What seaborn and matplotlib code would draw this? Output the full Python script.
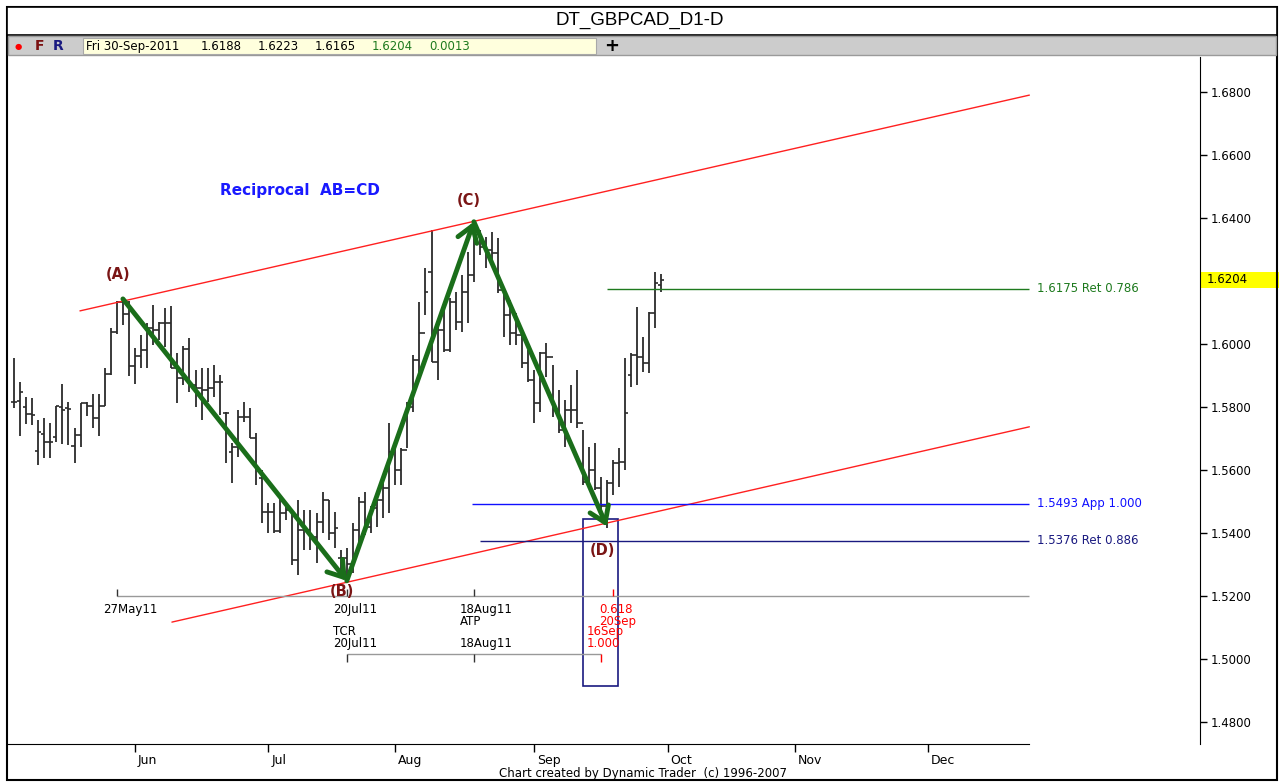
import matplotlib
matplotlib.use("Agg")
import matplotlib.pyplot as plt
import matplotlib.transforms as mtransforms
from matplotlib.patches import Rectangle
import numpy as np
import pandas as pd
import seaborn as sns

sns.set_style("white")
plt.rcParams["font.family"] = ["DejaVu Sans"]
plt.rcParams["text.color"] = "black"

W, H = 1279, 782

# daily bars, 04 May 2011 .. 30 Sep 2011 (weekdays)
bar_dates = pd.bdate_range("2011-05-04", "2011-09-30")
axis_dates = pd.bdate_range("2011-05-04", "2011-12-30")

opens = [1.5817, 1.5819, 1.5801, 1.5779, 1.5660, 1.5715, 1.5688, 1.5705, 1.5800, 1.5798,
         1.5675, 1.5711, 1.5811, 1.5804, 1.5766, 1.5802, 1.5904, 1.6037, 1.6134, 1.6096,
         1.5931, 1.5963, 1.5980, 1.6052, 1.6045, 1.6065, 1.6065, 1.5923, 1.5891, 1.5983,
         1.5870, 1.5859, 1.5854, 1.5859, 1.5880, 1.5780, 1.5658, 1.5674, 1.5769, 1.5769,
         1.5701, 1.5574, 1.5465, 1.5465, 1.5407, 1.5462, 1.5473, 1.5314, 1.5410, 1.5410,
         1.5388, 1.5436, 1.5505, 1.5399, 1.5320, 1.5320, 1.5300, 1.5410, 1.5499, 1.5420,
         1.5478, 1.5505, 1.5542, 1.5658, 1.5600, 1.5663, 1.5801, 1.5949, 1.6034, 1.6230,
         1.5944, 1.6044, 1.5981, 1.6134, 1.6071, 1.6166, 1.6219, 1.6357, 1.6309, 1.6299,
         1.6288, 1.6171, 1.6092, 1.6034, 1.6028, 1.5939, 1.5886, 1.5812, 1.5970, 1.5960,
         1.5790, 1.5727, 1.5790, 1.5790, 1.5748, 1.5563, 1.5600, 1.5542, 1.5484, 1.5560,
         1.5621, 1.5626, 1.5901, 1.5965, 1.5960, 1.5939, 1.6097, 1.6188]
highs = [1.5957, 1.5880, 1.5832, 1.5830, 1.5760, 1.5766, 1.5749, 1.5804, 1.5874, 1.5817,
         1.5732, 1.5811, 1.5815, 1.5840, 1.5842, 1.5925, 1.6052, 1.6137, 1.6145, 1.6137,
         1.5986, 1.6028, 1.6065, 1.6124, 1.6071, 1.6113, 1.6122, 1.5970, 1.5995, 1.6018,
         1.5917, 1.5923, 1.5923, 1.5933, 1.5902, 1.5785, 1.5685, 1.5790, 1.5817, 1.5796,
         1.5716, 1.5600, 1.5494, 1.5494, 1.5521, 1.5489, 1.5462, 1.5505, 1.5473, 1.5473,
         1.5462, 1.5531, 1.5505, 1.5468, 1.5346, 1.5352, 1.5431, 1.5515, 1.5531, 1.5484,
         1.5515, 1.5573, 1.5748, 1.5679, 1.5669, 1.5817, 1.5965, 1.6134, 1.6240, 1.6362,
         1.6060, 1.6113, 1.6145, 1.6166, 1.6219, 1.6293, 1.6390, 1.6362, 1.6341, 1.6357,
         1.6335, 1.6177, 1.6140, 1.6097, 1.6044, 1.5981, 1.5917, 1.5976, 1.6002, 1.5933,
         1.5854, 1.5822, 1.5870, 1.5917, 1.5727, 1.5674, 1.5685, 1.5579, 1.5568, 1.5632,
         1.5669, 1.5956, 1.5970, 1.6118, 1.6023, 1.6103, 1.6230, 1.6223]
lows = [1.5796, 1.5709, 1.5745, 1.5743, 1.5616, 1.5637, 1.5637, 1.5690, 1.5681, 1.5679,
        1.5622, 1.5673, 1.5770, 1.5732, 1.5707, 1.5802, 1.5902, 1.6031, 1.6060, 1.5899,
        1.5874, 1.5923, 1.5923, 1.5997, 1.6012, 1.5990, 1.5923, 1.5812, 1.5870, 1.5849,
        1.5801, 1.5759, 1.5817, 1.5833, 1.5774, 1.5621, 1.5558, 1.5642, 1.5753, 1.5701,
        1.5552, 1.5431, 1.5399, 1.5399, 1.5399, 1.5441, 1.5298, 1.5267, 1.5346, 1.5346,
        1.5304, 1.5399, 1.5378, 1.5351, 1.5272, 1.5251, 1.5272, 1.5367, 1.5394, 1.5399,
        1.5420, 1.5447, 1.5462, 1.5552, 1.5552, 1.5669, 1.5785, 1.5912, 1.6092, 1.5944,
        1.5886, 1.5976, 1.5976, 1.6044, 1.6039, 1.6066, 1.6198, 1.6283, 1.6241, 1.6246,
        1.6161, 1.6023, 1.5997, 1.5997, 1.5923, 1.5880, 1.5748, 1.5785, 1.5896, 1.5769,
        1.5716, 1.5674, 1.5748, 1.5732, 1.5552, 1.5558, 1.5537, 1.5462, 1.5415, 1.5521,
        1.5547, 1.5600, 1.5864, 1.5870, 1.5912, 1.5907, 1.6050, 1.6165]
closes = [1.5817, 1.5849, 1.5779, 1.5775, 1.5722, 1.5690, 1.5690, 1.5804, 1.5790, 1.5794,
          1.5711, 1.5811, 1.5804, 1.5766, 1.5802, 1.5904, 1.6037, 1.6134, 1.6096, 1.5931,
          1.5963, 1.5980, 1.6052, 1.6045, 1.6065, 1.6065, 1.5923, 1.5891, 1.5983, 1.5870,
          1.5859, 1.5854, 1.5859, 1.5880, 1.5880, 1.5780, 1.5674, 1.5769, 1.5769, 1.5701,
          1.5605, 1.5465, 1.5465, 1.5407, 1.5462, 1.5473, 1.5314, 1.5410, 1.5410, 1.5388,
          1.5436, 1.5505, 1.5399, 1.5415, 1.5320, 1.5300, 1.5410, 1.5499, 1.5420, 1.5478,
          1.5505, 1.5542, 1.5658, 1.5600, 1.5663, 1.5801, 1.5949, 1.6034, 1.6166, 1.5944,
          1.6044, 1.5981, 1.6134, 1.6071, 1.6166, 1.6219, 1.6357, 1.6309, 1.6299, 1.6288,
          1.6171, 1.6092, 1.6034, 1.6028, 1.5939, 1.5886, 1.5812, 1.5970, 1.5960, 1.5790,
          1.5727, 1.5790, 1.5790, 1.5748, 1.5563, 1.5600, 1.5542, 1.5484, 1.5560, 1.5621,
          1.5626, 1.5782, 1.5965, 1.5960, 1.5939, 1.6097, 1.6193, 1.6204]

# AB=CD pivots (bar index, price)
pivot_idx = [18, 55, 76, 98]
pivot_px = [1.6143, 1.5248, 1.6388, 1.5420]
pivot_names = ["(A)", "(B)", "(C)", "(D)"]

# channel lines (bar index, price)
upper_x, upper_y = [10.9, 167.8], [1.6105, 1.6790]
lower_x, lower_y = [26.1, 167.8], [1.5117, 1.5737]

# price projections
level_px = [1.6175, 1.5493, 1.5376]
level_start = [98, 75.7, 77]
level_txt = ["1.6175 Ret 0.786", "1.5493 App 1.000", "1.5376 Ret 0.886"]
level_col = ["#1e7a1e", "#1010ff", "#1a1a80"]

# time projections
atp_dates = ["2011-05-27", "2011-07-20", "2011-08-18"]
atp_labels = ["27May11", "20Jul11", "18Aug11\nATP"]
atp_target = "2011-09-20"
tcr_dates = ["2011-07-20", "2011-08-18"]
tcr_labels = ["TCR\n20Jul11", "18Aug11"]
tcr_target = "2011-09-16"
atp_level, tcr_level = 1.5200, 1.5016

# target box
box_x, box_w = 94.0, 5.8
box_lo, box_hi = 1.4914, 1.5444

month_names = ["Jun", "Jul", "Aug", "Sep", "Oct", "Nov", "Dec"]
y_ticks = [1.48, 1.50, 1.52, 1.54, 1.56, 1.58, 1.60, 1.64, 1.66, 1.68]

x_end = 167.8

fig = plt.figure(figsize=(W / 100, H / 100), dpi=100)
ax = fig.add_axes([8 / W, 1 - 744 / H, 1192 / W, 687 / H])

idx = np.arange(len(bar_dates))
bar_col = "#2b2b2b"
ax.vlines(idx, lows, highs, color=bar_col, lw=1.3)
ax.hlines(opens, idx - 0.5, idx, color=bar_col, lw=1.2)
ax.hlines(closes, idx, idx + 0.5, color=bar_col, lw=1.2)

# channel
sns.lineplot(x=upper_x, y=upper_y, ax=ax, color="#ff2020", lw=1)
sns.lineplot(x=lower_x, y=lower_y, ax=ax, color="#ff2020", lw=1)

# levels
for p, s, t, c in zip(level_px, level_start, level_txt, level_col):
    ax.hlines(p, s, x_end, color=c, lw=1)
    ax.text(x_end + 1.3, p, t, color=c, fontsize=8.5, ha="left", va="center")

# arrows
for k in range(3):
    ax.annotate("", xy=(pivot_idx[k + 1], pivot_px[k + 1]), xytext=(pivot_idx[k], pivot_px[k]),
                arrowprops=dict(arrowstyle="->,head_length=0.6,head_width=0.4", lw=3.5,
                                color="#1a6e1a", shrinkA=0, shrinkB=0, mutation_scale=18))

lbl_off = [0.0078, -0.0035, 0.0069, -0.0077]
for i, p, n, o in zip(pivot_idx, pivot_px, pivot_names, lbl_off):
    ax.text(i - 0.8, p + o, n, color="#7a1515", fontsize=10.5, fontweight="bold",
            ha="center", va="center")

ax.text(34.0, 1.6486, "Reciprocal  AB=CD", color="#1a1aff", fontsize=11,
        fontweight="bold", ha="left", va="center")


# time projection lines
def loc(d):
    return axis_dates.get_loc(pd.Timestamp(d))


atp_i = [loc(d) for d in atp_dates]
ax.hlines(atp_level, atp_i[0], x_end, color="#999999", lw=1)
ax.vlines(atp_i, atp_level, atp_level + 0.0022, color="#333333", lw=1)
for i, s in zip(atp_i, atp_labels):
    ax.text(i - 2.3, atp_level - 0.0022, s, fontsize=8.5, ha="left", va="top", linespacing=0.95)
ta = loc(atp_target)
ax.vlines(ta, atp_level, atp_level + 0.0022, color="#ff0000", lw=1)
ax.text(ta - 2.3, atp_level - 0.0022, "0.618\n20Sep", color="#ff0000", fontsize=8.5,
        ha="left", va="top", linespacing=0.95)

tcr_i = [loc(d) for d in tcr_dates]
tt = loc(tcr_target)
ax.hlines(tcr_level, tcr_i[0], tt, color="#999999", lw=1)
ax.vlines(tcr_i, tcr_level - 0.0025, tcr_level, color="#333333", lw=1)
for i, s in zip(tcr_i, tcr_labels):
    ax.text(i - 2.3, tcr_level + 0.0012, s, fontsize=8.5, ha="left", va="bottom", linespacing=0.95)
ax.vlines(tt, tcr_level - 0.0025, tcr_level, color="#ff0000", lw=1)
ax.text(tt - 2.4, tcr_level + 0.0012, "16Sep\n1.000", color="#ff0000", fontsize=8.5,
        ha="left", va="bottom", linespacing=0.95)

ax.add_patch(Rectangle((box_x, box_lo), box_w, box_hi - box_lo, fill=False,
                       edgecolor="#1a1a80", lw=1.2))

# axes
ax.set_xlim(-0.99, 196.0)
ax.set_ylim(1.4730, 1.6911)
ax.yaxis.tick_right()
ax.set_yticks(y_ticks)
ax.set_yticklabels([f"{v:.4f}" for v in y_ticks])
ax.tick_params(axis="y", direction="out", length=5, width=1, pad=3, labelsize=8.5,
               right=True, left=False, colors="black")

month_i = [i for i in range(1, len(axis_dates)) if axis_dates[i].month != axis_dates[i - 1].month]
ax.set_xticks(month_i)
ax.set_xticklabels(month_names, family=["Liberation Sans Narrow", "DejaVu Sans"], fontsize=9)
ax.tick_params(axis="x", direction="out", length=6, width=1, pad=1, bottom=True, colors="black")
shift = mtransforms.ScaledTranslation(3 / 100, 0, fig.dpi_scale_trans)
for lab in ax.get_xticklabels():
    lab.set_ha("left")
    lab.set_transform(lab.get_transform() + shift)

for s in ["top", "left"]:
    ax.spines[s].set_visible(False)
ax.spines["right"].set_color("black")
ax.spines["bottom"].set_color("black")
ax.spines["bottom"].set_bounds(-0.99, x_end)
ax.set_xlabel("")
ax.set_ylabel("")

# last price tag
tag = mtransforms.blended_transform_factory(ax.transAxes, ax.transData)
ax.add_patch(Rectangle((1.0, closes[-1] - 0.0026), 0.07, 0.0052, transform=tag,
                       facecolor="#ffff00", edgecolor="none", clip_on=False))
ax.text(1.006, closes[-1], f"{closes[-1]:.4f}", transform=tag, fontsize=8.5,
        ha="left", va="center")


# header / frame
def fig_box(x0, y0, x1, y1, **kw):
    fig.add_artist(Rectangle((x0 / W, 1 - y1 / H), (x1 - x0) / W, (y1 - y0) / H,
                             transform=fig.transFigure, **kw))


def fig_text(x, y, s, **kw):
    fig.text(x / W, 1 - y / H, s, **kw)


fig_box(7, 7, 1277, 780, fill=False, edgecolor="black", lw=1.5)
fig_box(7, 7, 1277, 35, facecolor="white", edgecolor="black", lw=1.2)
fig_box(8, 36, 1276, 55, facecolor="#cccccc", edgecolor="#9a9a9a", lw=1)
fig_box(83, 38, 596, 54, facecolor="#ffffdd", edgecolor="#a8a8a8", lw=0.8)
fig_text(640, 20, "DT_GBPCAD_D1-D", fontsize=13.5, ha="center", va="center",
         family=["Liberation Sans", "DejaVu Sans"])
fig_text(18, 46.5, "\u25cf", color="#ff0000", fontsize=6, ha="center", va="center")
fig_text(40, 46, "F", color="#7a1010", fontsize=10, fontweight="bold", ha="center", va="center")
fig_text(58, 46, "R", color="#1a1a80", fontsize=10, fontweight="bold", ha="center", va="center")
info = [("Fri 30-Sep-2011", 86, "black"), ("1.6188", 201, "black"), ("1.6223", 258, "black"),
        ("1.6165", 315, "black"), ("1.6204", 372, "#1e7a1e"), ("0.0013", 429, "#1e7a1e")]
for s, x, c in info:
    fig_text(x, 46.5, s, color=c, fontsize=8.5, ha="left", va="center")
fig_text(612, 46, "+", fontsize=13, fontweight="bold", ha="center", va="center")
fig_text(643, 773, "Chart created by Dynamic Trader  (c) 1996-2007", fontsize=8.5,
         ha="center", va="center", family=["Liberation Sans Narrow", "DejaVu Sans"])

fig.savefig("out.png", dpi=100)
